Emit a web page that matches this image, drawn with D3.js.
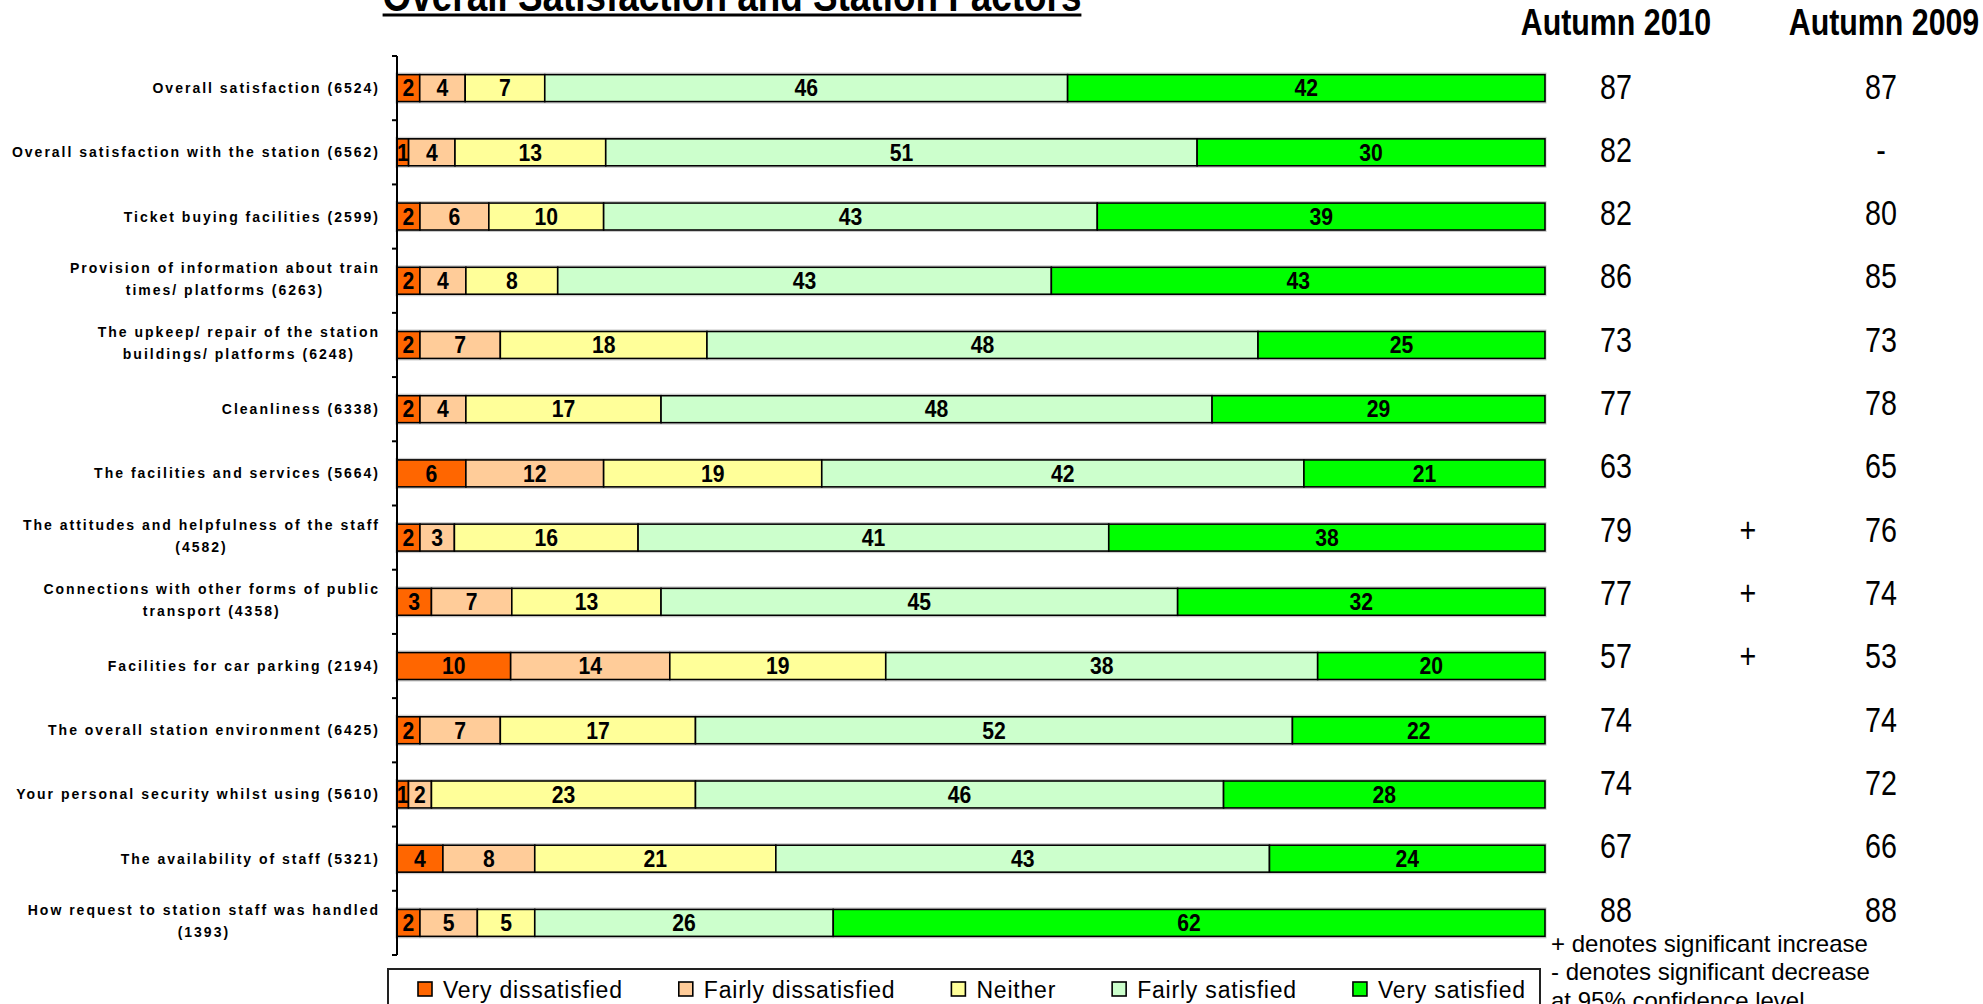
<!DOCTYPE html>
<html>
<head>
<meta charset="utf-8">
<script src="https://cdn.jsdelivr.net/npm/d3@7"></script>
<style>
  html, body { margin: 0; padding: 0; background: #fff; overflow: hidden; }
  svg { display: block; }
</style>
</head>
<body>
<svg id="chart" width="1983" height="1004"></svg>
<script>
// ---------------- DATA ----------------
const categories = [
  "Overall satisfaction (6524)",
  "Overall satisfaction with the station (6562)",
  "Ticket buying facilities (2599)",
  "Provision of information about train|times/ platforms (6263)",
  "The upkeep/ repair of the station|buildings/ platforms (6248)",
  "Cleanliness (6338)",
  "The facilities and services (5664)",
  "The attitudes and helpfulness of the staff|(4582)",
  "Connections with other forms of public|transport (4358)",
  "Facilities for car parking (2194)",
  "The overall station environment (6425)",
  "Your personal security whilst using (5610)",
  "The availability of staff (5321)",
  "How request to station staff was handled|(1393)"
];
const seriesNames = ["Very dissatisfied", "Fairly dissatisfied", "Neither", "Fairly satisfied", "Very satisfied"];
const veryDissatisfied   = [2, 1, 2, 2, 2, 2, 6, 2, 3, 10, 2, 1, 4, 2];
const fairlyDissatisfied = [4, 4, 6, 4, 7, 4, 12, 3, 7, 14, 7, 2, 8, 5];
const neither            = [7, 13, 10, 8, 18, 17, 19, 16, 13, 19, 17, 23, 21, 5];
const fairlySatisfied    = [46, 51, 43, 43, 48, 48, 42, 41, 45, 38, 52, 46, 43, 26];
const verySatisfied      = [42, 30, 39, 43, 25, 29, 21, 38, 32, 20, 22, 28, 24, 62];
const colors = ["#FF6600", "#FFCC99", "#FFFF99", "#CCFFCC", "#00FF00"];

const autumn2010 = ["87", "82", "82", "86", "73", "77", "63", "79", "77", "57", "74", "74", "67", "88"];
const significance = ["", "", "", "", "", "", "", "+", "+", "+", "", "", "", ""];
const autumn2009 = ["87", "-", "80", "85", "73", "78", "65", "76", "74", "53", "74", "72", "66", "88"];
const columnHeaders = ["Autumn 2010", "Autumn 2009"];
const title = "Overall Satisfaction and Station Factors";
const footnotes = ["+ denotes significant increase", "- denotes significant decrease", "at 95% confidence level"];

// ---------------- SETUP ----------------
const svg = d3.select("#chart");
const FONT = "'Liberation Sans', Arial, sans-serif";

const seriesArrays = [veryDissatisfied, fairlyDissatisfied, neither, fairlySatisfied, verySatisfied];
const rows = categories.map((c, i) => {
  const r = { cat: c };
  seriesNames.forEach((s, k) => r[s] = seriesArrays[k][i]);
  return r;
});
const stacked = d3.stack().keys(seriesNames).offset(d3.stackOffsetExpand)(rows);

const x = d3.scaleLinear().domain([0, 1]).range([397, 1545]);
const y = d3.scaleBand().domain(categories).range([56, 955]).paddingInner(0.58).paddingOuter(0.29);
const yVal = d3.scalePoint().domain(categories).range([86, 909]);

function narrow(parent, tx, ty, txt, size, weight, anchor, sx) {
  const g = parent.append("g").attr("transform", `translate(${tx},${ty}) scale(${sx || 0.82},1)`);
  const t = g.append("text")
    .attr("x", 0).attr("y", 0)
    .attr("text-anchor", anchor || "middle")
    .style("font-family", FONT)
    .style("font-size", size + "px")
    .style("font-weight", weight || "normal")
    .attr("fill", "#000")
    .text(txt);
  return t;
}

// ---------------- TITLE ----------------
const titleText = narrow(svg, 732, 11, title, 45, "bold", "middle");
const tw = titleText.node().getComputedTextLength() * 0.82;
svg.append("rect").attr("x", 732 - tw / 2).attr("y", 13.5).attr("width", tw).attr("height", 3).attr("fill", "#000");

// ---------------- HEADERS ----------------
const headerX = [1616, 1884];
columnHeaders.forEach((h, i) => narrow(svg, headerX[i], 35, h, 37, "bold", "middle"));

// ---------------- BARS ----------------
const barG = svg.append("g");
barG.selectAll("rect.shadow").data(categories).join("rect")
  .attr("class", "shadow")
  .attr("x", x(0) - 1).attr("y", d => y(d) - 1.5)
  .attr("width", x(1) - x(0) + 2).attr("height", y.bandwidth() + 3)
  .attr("fill", "none").attr("stroke", "#c8c8c8").attr("stroke-width", 1);

stacked.forEach((layer, k) => {
  const g = barG.append("g");
  g.selectAll("rect").data(layer).join("rect")
    .attr("x", d => x(d[0]))
    .attr("y", d => y(d.data.cat))
    .attr("width", d => x(d[1]) - x(d[0]))
    .attr("height", y.bandwidth())
    .attr("fill", colors[k])
    .attr("stroke", "#000")
    .attr("stroke-width", 1.6);
});
stacked.forEach((layer, k) => {
  const g = barG.append("g");
  layer.forEach(d => {
    narrow(g, (x(d[0]) + x(d[1])) / 2, y(d.data.cat) + y.bandwidth() / 2 + 8.3,
      d.data[seriesNames[k]], 23.5, "bold", "middle", 0.9);
  });
});

// ---------------- AXIS ----------------
const axisX = x(0);
const [r0, r1] = y.range();
svg.append("line").attr("x1", axisX).attr("x2", axisX).attr("y1", r0).attr("y2", r1)
  .attr("stroke", "#000").attr("stroke-width", 2);
const boundaries = d3.range(categories.length + 1).map(i => r0 + i * y.step());
svg.append("g").selectAll("line").data(boundaries).join("line")
  .attr("x1", axisX - 5).attr("x2", axisX).attr("y1", d => d).attr("y2", d => d)
  .attr("stroke", "#000").attr("stroke-width", 2);

// ---------------- CATEGORY LABELS ----------------
const labG = svg.append("g");
categories.forEach(c => {
  const lines = c.split("|");
  const cy = y(c) + y.bandwidth() / 2;
  const right = 380;
  if (lines.length === 1) {
    labG.append("text")
      .attr("x", right).attr("y", cy + 5)
      .attr("text-anchor", "end")
      .style("font-family", FONT).style("font-size", "14px").style("font-weight", "bold")
      .style("letter-spacing", "2px")
      .attr("fill", "#000").text(lines[0]);
  } else {
    const ts = lines.map((l, j) => labG.append("text")
      .attr("y", cy + (j === 0 ? -13 : 9) + 5)
      .attr("text-anchor", "middle")
      .style("font-family", FONT).style("font-size", "14px").style("font-weight", "bold")
      .style("letter-spacing", "2px")
      .attr("fill", "#000").text(l));
    const maxW = d3.max(ts, t => t.node().getComputedTextLength());
    ts.forEach(t => t.attr("x", right - maxW / 2));
  }
});

// ---------------- RIGHT COLUMNS ----------------
categories.forEach((c, i) => {
  const cy = yVal(c) + 12.5;
  narrow(svg, 1616, cy, autumn2010[i], 35, "normal", "middle");
  if (significance[i]) narrow(svg, 1748, cy, significance[i], 35, "normal", "middle");
  narrow(svg, 1881, cy, autumn2009[i], 35, "normal", "middle");
});

// ---------------- FOOTNOTES ----------------
const fy = [952, 980, 1009];
footnotes.forEach((f, i) => {
  svg.append("text").attr("x", 1551).attr("y", fy[i])
    .style("font-family", FONT).style("font-size", "24px")
    .attr("fill", "#000").text(f);
});

// ---------------- LEGEND ----------------
const legG = svg.append("g");
legG.append("rect").attr("x", 388).attr("y", 969).attr("width", 1152).attr("height", 60)
  .attr("fill", "#fff").attr("stroke", "#222").attr("stroke-width", 2);
let lx = 418;
seriesNames.forEach((s, k) => {
  legG.append("rect").attr("x", lx).attr("y", 982).attr("width", 14).attr("height", 14)
    .attr("fill", colors[k]).attr("stroke", "#000").attr("stroke-width", 1.6);
  const t = legG.append("text").attr("x", lx + 25).attr("y", 998)
    .style("font-family", FONT).style("font-size", "23px").style("letter-spacing", "0.8px")
    .attr("fill", "#000").text(s);
  lx += 25 + t.node().getComputedTextLength() + 56;
});
</script>
</body>
</html>
